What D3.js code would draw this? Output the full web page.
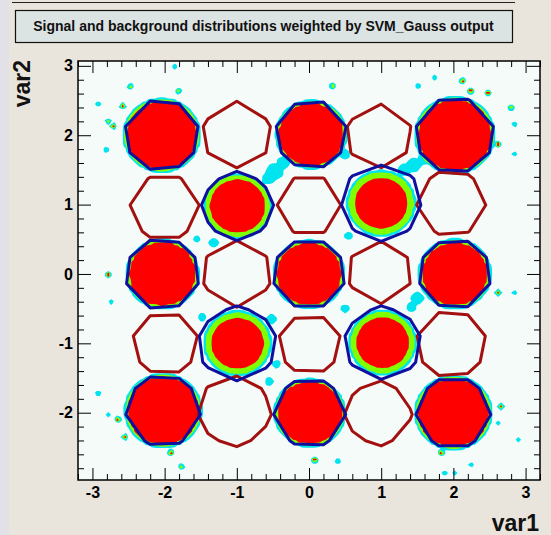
<!DOCTYPE html>
<html><head><meta charset="utf-8">
<script src="https://cdn.jsdelivr.net/npm/d3@7"></script>
<style>body{margin:0;background:#e9e5dc;} svg{display:block;}</style>
</head><body><svg id="c" width="551" height="535"></svg>
<script>
const chartTitle = "Signal and background distributions weighted by SVM_Gauss output";
const xTicks = [-3, -2, -1, 0, 1, 2, 3];
const yTicks = [-2, -1, 0, 1, 2, 3];
const xLabel = "var1", yLabel = "var2";

// signal blobs (blue contours + filled density)
const sigX = [-2.04, 0.03, 2.02, -0.99, 1.0, -2.03, 0.0, 2.02, -0.99, 1.02, -2.02, 0.01, 2.0];
const sigY = [2.0, 2.01, 2.0, 0.98, 1.02, 0.0, 0.0, 0.0, -1.0, -0.99, -1.97, -2.0, -2.0];
const sigLine = [0.52, 0.50, 0.55, 0.50, 0.55, 0.52, 0.51, 0.51, 0.54, 0.53, 0.52, 0.50, 0.52];
const sigCore = [0.50, 0.46, 0.52, 0.39, 0.37, 0.47, 0.46, 0.46, 0.37, 0.37, 0.50, 0.46, 0.50];
const sigGreen = [0.52, 0.48, 0.54, 0.45, 0.46, 0.49, 0.48, 0.49, 0.45, 0.45, 0.52, 0.48, 0.52];
const sigCyan = [0.535, 0.495, 0.555, 0.47, 0.475, 0.505, 0.495, 0.505, 0.47, 0.465, 0.535, 0.495, 0.535];

// background blobs (dark red contours)
const bkgX = [-1.0, 0.97, -2.0, 0.0, 1.97, -1.0, 0.98, -1.99, 0.01, 1.97, -1.03, 0.96];
const bkgY = [2.01, 1.99, 0.96, 0.99, 1.02, 0.0, 0.02, -1.0, -1.01, -1.01, -1.98, -2.01];
const bkgLine = [0.48, 0.46, 0.48, 0.44, 0.48, 0.48, 0.45, 0.46, 0.44, 0.49, 0.51, 0.47];

// low-level patches between blobs
const patchX = [-0.47, -0.36, -0.56, 1.32, 1.45, 1.58, 0.5, 1.5, 1.42, -1.32, -1.48, -0.52, -0.45, 0.55, -0.55, 0.5, -1.55];
const patchY = [1.48, 1.6, 1.38, 1.5, 1.57, 1.65, 1.72, -0.35, -0.48, 0.45, -0.62, -0.65, -1.3, 0.55, -1.55, -0.5, 0.5];
const patchR = [0.1, 0.07, 0.07, 0.07, 0.08, 0.06, 0.05, 0.07, 0.05, 0.05, 0.04, 0.05, 0.04, 0.04, 0.04, 0.04, 0.03];
const patchLevel = [1, 1, 1, 1, 1, 1, 1, 1, 1, 1, 1, 1, 1, 1, 1, 1, 1];

// isolated specks
const speckX = [-1.86, -2.71, -2.78, -2.92, -2.47, -2.81, -2.58, -1.81, 1.74, 2.13, 2.24, 2.48, 2.8, 2.62, 2.85, 2.85, 1.51, 0.33,
  -2.78, -2.74, -2.92, -2.78, -2.65, -2.55, -1.91, -1.77, 2.62, 2.85, 2.62, 2.66, 2.9, 1.83, 1.88, 2.02, 2.25, 0.08, 0.4];
const speckY = [2.99, 2.13, 2.2, 2.45, 2.7, 1.79, 2.42, 2.64, 2.83, 2.78, 2.64, 2.61, 2.4, 1.87, 2.16, 1.73, 2.71, 2.71,
  -0.01, -0.4, -1.72, -2.03, -2.1, -2.35, -2.58, -2.78, -0.27, -0.27, -2.15, -1.91, -2.39, -2.58, -2.87, -2.87, -2.75, -2.68, -2.7];
const speckLevel = [1, 3, 2, 1, 2, 1, 3, 2, 1, 3, 3, 3, 2, 3, 1, 1, 1, 2,
  3, 1, 1, 1, 3, 3, 3, 2, 3, 1, 1, 3, 1, 3, 1, 1, 1, 3, 1];

const fillColors = ["#00e4ef", "#80ff00", "#ff0000"];
const fillLevels = [0.5, 1.5, 2.5];

const L = 78, R = 540, T = 61, B = 480;
const x = d3.scaleLinear().domain([-3.2, 3.2]).range([L, R]);
const y = d3.scaleLinear().domain([-2.97, 3.07]).range([B, T]);

const svg = d3.select("#c");
svg.append("rect").attr("width", 551).attr("height", 535).attr("fill", "#e9e5dc");
svg.append("rect").attr("width", 9).attr("height", 535).attr("fill", "#e1e1e7");
svg.append("line").attr("x1", 12).attr("x2", 515).attr("y1", 2.5).attr("y2", 2.5).attr("stroke", "#222").attr("stroke-width", 1);

svg.append("rect").attr("x", 15.5).attr("y", 10.5).attr("width", 497).attr("height", 32)
  .attr("fill", "#dce3e3").attr("stroke", "#111").attr("stroke-width", 1.2);
svg.append("text").attr("x", 263.5).attr("y", 31).attr("text-anchor", "middle")
  .attr("font-family", "Liberation Sans, Arial, sans-serif").attr("font-weight", "bold").attr("font-size", 14)
  .attr("fill", "#111").text(chartTitle);

svg.append("rect").attr("x", L).attr("y", T).attr("width", R - L).attr("height", B - T).attr("fill", "#f5fbf9");
svg.append("clipPath").attr("id", "clip").append("rect").attr("x", L).attr("y", T).attr("width", R - L).attr("height", B - T);
const plot = svg.append("g").attr("clip-path", "url(#clip)");

function makeGrid(nx, ny, fn) {
  const gx = d3.scaleLinear().domain([0, nx]).range(x.domain());
  const gy = d3.scaleLinear().domain([0, ny]).range([y.domain()[1], y.domain()[0]]);
  const vals = new Float64Array(nx * ny);
  for (let j = 0; j < ny; j++) for (let i = 0; i < nx; i++) vals[j * nx + i] = fn(gx(i + 0.5), gy(j + 0.5));
  const path = d3.geoPath(d3.geoTransform({ point(a, b) { this.stream.point(x(gx(a)), y(gy(b))); } }));
  return { vals, path };
}

function ring(d, c, g, a) {
  if (d <= c) return 2.5 + (c - d) / c * 1.5;
  if (d <= g) return 2.5 - (d - c) / (g - c);
  if (d <= a) return 1.5 - (d - g) / (a - g);
  return Math.max(0, 0.5 - (d - a) * 10);
}
function bump(d, r, lvl) {
  if (d <= r) return lvl + 0.4;
  return Math.max(0, (lvl + 0.4) * (1 - (d - r) / 0.03));
}

// filled signal density
const NX = 160, NY = 151;
const fine = makeGrid(NX, NY, (px, py) => {
  let v = 0;
  for (let k = 0; k < sigX.length; k++) {
    const d = Math.hypot(px - sigX[k], py - sigY[k]);
    if (d < 0.8) v = Math.max(v, ring(d, sigCore[k], sigGreen[k], sigCyan[k]));
  }
  for (let k = 0; k < patchX.length; k++) {
    const d = Math.hypot(px - patchX[k], py - patchY[k]);
    v = Math.max(v, bump(d, patchR[k], patchLevel[k]));
  }
  for (let k = 0; k < speckX.length; k++) {
    const d = Math.hypot(px - speckX[k], py - speckY[k]);
    v = Math.max(v, bump(d, 0.02, speckLevel[k]));
  }
  return v;
});
const fills = d3.contours().size([NX, NY]).thresholds(fillLevels)(fine.vals);
plot.selectAll("path.fill").data(fills).join("path").attr("class", "fill")
  .attr("d", fine.path).attr("fill", (d, i) => fillColors[i]).attr("stroke", "none");

// coarse contour lines
const CX = 16, CY = 16;
function coneGrid(cx, cy, cr) {
  return makeGrid(CX, CY, (px, py) => {
    let v = -10;
    for (let k = 0; k < cx.length; k++) v = Math.max(v, 1 - Math.hypot(px - cx[k], py - cy[k]) / cr[k]);
    return v;
  });
}
const bg = coneGrid(bkgX, bkgY, bkgLine);
plot.selectAll("path.bline").data(d3.contours().size([CX, CY]).thresholds([0])(bg.vals)).join("path")
  .attr("class", "bline").attr("d", bg.path).attr("fill", "none").attr("stroke", "#a31010")
  .attr("stroke-width", 3).attr("stroke-linejoin", "round");
const sg = coneGrid(sigX, sigY, sigLine);
plot.selectAll("path.sline").data(d3.contours().size([CX, CY]).thresholds([0])(sg.vals)).join("path")
  .attr("class", "sline").attr("d", sg.path).attr("fill", "none").attr("stroke", "#1010a0")
  .attr("stroke-width", 3).attr("stroke-linejoin", "round");

// axes
const font = "Liberation Sans, Arial, sans-serif";
const minorX = d3.range(-32, 33, 2).map(v => v / 10).filter(v => !Number.isInteger(v));
const minorY = d3.range(-28, 31, 2).map(v => v / 10).filter(v => !Number.isInteger(v));
function styleAxis(g) {
  g.select(".domain").remove();
  g.selectAll("line").attr("stroke", "#000").attr("stroke-width", 1);
  g.selectAll("text").attr("font-family", font).attr("font-weight", "bold").attr("font-size", 16).attr("fill", "#000");
}
svg.append("g").attr("transform", `translate(0,${B})`).call(d3.axisBottom(x).tickValues(minorX).tickSize(-6).tickFormat("")).call(styleAxis);
svg.append("g").attr("transform", `translate(0,${B})`).call(d3.axisBottom(x).tickValues(xTicks).tickSize(-12).tickPadding(7).tickFormat(d => String(d))).call(styleAxis);
svg.append("g").attr("transform", `translate(0,${T})`).call(d3.axisTop(x).tickValues(minorX).tickSize(-6).tickFormat("")).call(styleAxis);
svg.append("g").attr("transform", `translate(0,${T})`).call(d3.axisTop(x).tickValues(xTicks).tickSize(-12).tickFormat("")).call(styleAxis);
svg.append("g").attr("transform", `translate(${L},0)`).call(d3.axisLeft(y).tickValues(minorY).tickSize(-6).tickFormat("")).call(styleAxis);
svg.append("g").attr("transform", `translate(${L},0)`).call(d3.axisLeft(y).tickValues(yTicks).tickSize(-13).tickPadding(5).tickFormat(d => String(d))).call(styleAxis);
svg.append("g").attr("transform", `translate(${R},0)`).call(d3.axisRight(y).tickValues(minorY).tickSize(-6).tickFormat("")).call(styleAxis);
svg.append("g").attr("transform", `translate(${R},0)`).call(d3.axisRight(y).tickValues(yTicks).tickSize(-13).tickFormat("")).call(styleAxis);

svg.append("rect").attr("x", L).attr("y", T).attr("width", R - L).attr("height", B - T)
  .attr("fill", "none").attr("stroke", "#000").attr("stroke-width", 1.5);

svg.append("text").attr("x", 539).attr("y", 531).attr("text-anchor", "end")
  .attr("font-family", font).attr("font-weight", "bold").attr("font-size", 23).attr("fill", "#111").text(xLabel);
svg.append("text").attr("transform", "translate(30,60) rotate(-90)").attr("text-anchor", "end")
  .attr("font-family", font).attr("font-weight", "bold").attr("font-size", 23).attr("fill", "#111").text(yLabel);
</script>
</body></html>
